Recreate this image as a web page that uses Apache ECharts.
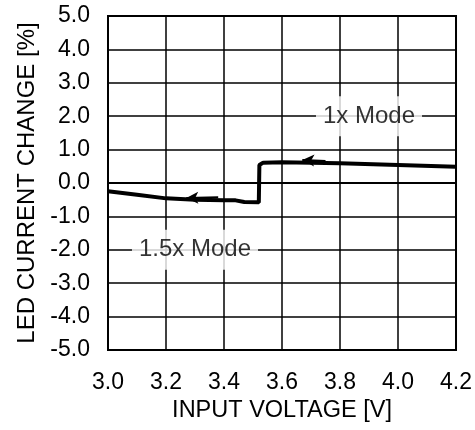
<!DOCTYPE html>
<html>
<head>
    <meta charset="utf-8">
    <title>LED Current Change</title>
    <style>
        html, body { margin: 0; padding: 0; background: #fff; }
    </style>
</head>
<body>
<div id="main" style="width: 475px;height:430px;"></div>
<script src="https://cdn.jsdelivr.net/npm/echarts@6/dist/echarts.min.js"></script>
<script type="text/javascript">
    // curve: [input voltage, current change %]
    var curve = [
        [3.0, -0.25], [3.1, -0.35], [3.2, -0.46], [3.3, -0.5], [3.4, -0.52],
        [3.44, -0.52], [3.47, -0.57], [3.52, -0.58], [3.522, 0.54], [3.535, 0.61],
        [3.6, 0.62], [3.8, 0.59], [4.0, 0.54], [4.2, 0.49]
    ];
    // little direction arrows (tail -> head)
    var arrows = [
        [[3.38, -0.43], [3.27, -0.45]],
        [[3.75, 0.66], [3.67, 0.69]]
    ];
    // mode labels
    var modeLabels = [
        { name: '1x Mode', value: [3.9, 2.0] },
        { name: '1.5x Mode', value: [3.3, -2.0] }
    ];

    var font = 'Liberation Sans, Arial, sans-serif';
    var myChart = echarts.init(document.getElementById('main'));

    option = {
        backgroundColor: '#fff',
        animation: false,
        grid: {
            left: 108, right: 18, top: 16, bottom: 80,
            show: true, borderColor: '#000', borderWidth: 2
        },
        xAxis: {
            type: 'value',
            min: 3.0, max: 4.2, interval: 0.2,
            name: 'INPUT VOLTAGE [V]',
            nameLocation: 'middle',
            nameGap: 49,
            nameTextStyle: { color: '#000', fontSize: 23.5, fontFamily: font },
            axisLine: { show: true, lineStyle: { color: '#000', width: 2 } },
            axisTick: { show: false },
            axisLabel: {
                color: '#000', fontSize: 23, fontFamily: font, margin: 21,
                formatter: function (v) { return v.toFixed(1); }
            },
            splitLine: { show: true, lineStyle: { color: '#000', width: 1.5 } }
        },
        yAxis: {
            type: 'value',
            min: -5, max: 5, interval: 1,
            name: 'LED CURRENT CHANGE [%]',
            nameLocation: 'middle',
            nameGap: 69,
            nameTextStyle: { color: '#000', fontSize: 24, fontFamily: font },
            axisLine: { show: true, lineStyle: { color: '#000', width: 2 } },
            axisTick: { show: false },
            axisLabel: {
                color: '#000', fontSize: 23, fontFamily: font, margin: 18,
                formatter: function (v) { return v.toFixed(1); }
            },
            splitLine: { show: true, lineStyle: { color: '#000', width: 1.5 } }
        },
        series: [
            {
                type: 'line',
                data: curve,
                showSymbol: false,
                lineStyle: { color: '#000', width: 4 },
                z: 3,
                markLine: {
                    silent: true,
                    symbol: ['none', 'arrow'],
                    symbolSize: [9, 12],
                    label: { show: false },
                    lineStyle: { color: '#000', width: 2, type: 'solid' },
                    data: arrows.map(function (a) {
                        return [{ coord: a[0] }, { coord: a[1] }];
                    })
                }
            },
            {
                type: 'scatter',
                data: modeLabels,
                symbolSize: 0,
                z: 5,
                label: {
                    show: true,
                    position: 'inside',
                    formatter: '{b}',
                    color: '#000',
                    fontSize: 24,
                    fontFamily: font,
                    backgroundColor: '#fff',
                    padding: [8, 7, 8, 7]
                }
            }
        ]
    };
    if (option && typeof option === "object") {
        myChart.setOption(option);
    }
</script>
</body>
</html>
